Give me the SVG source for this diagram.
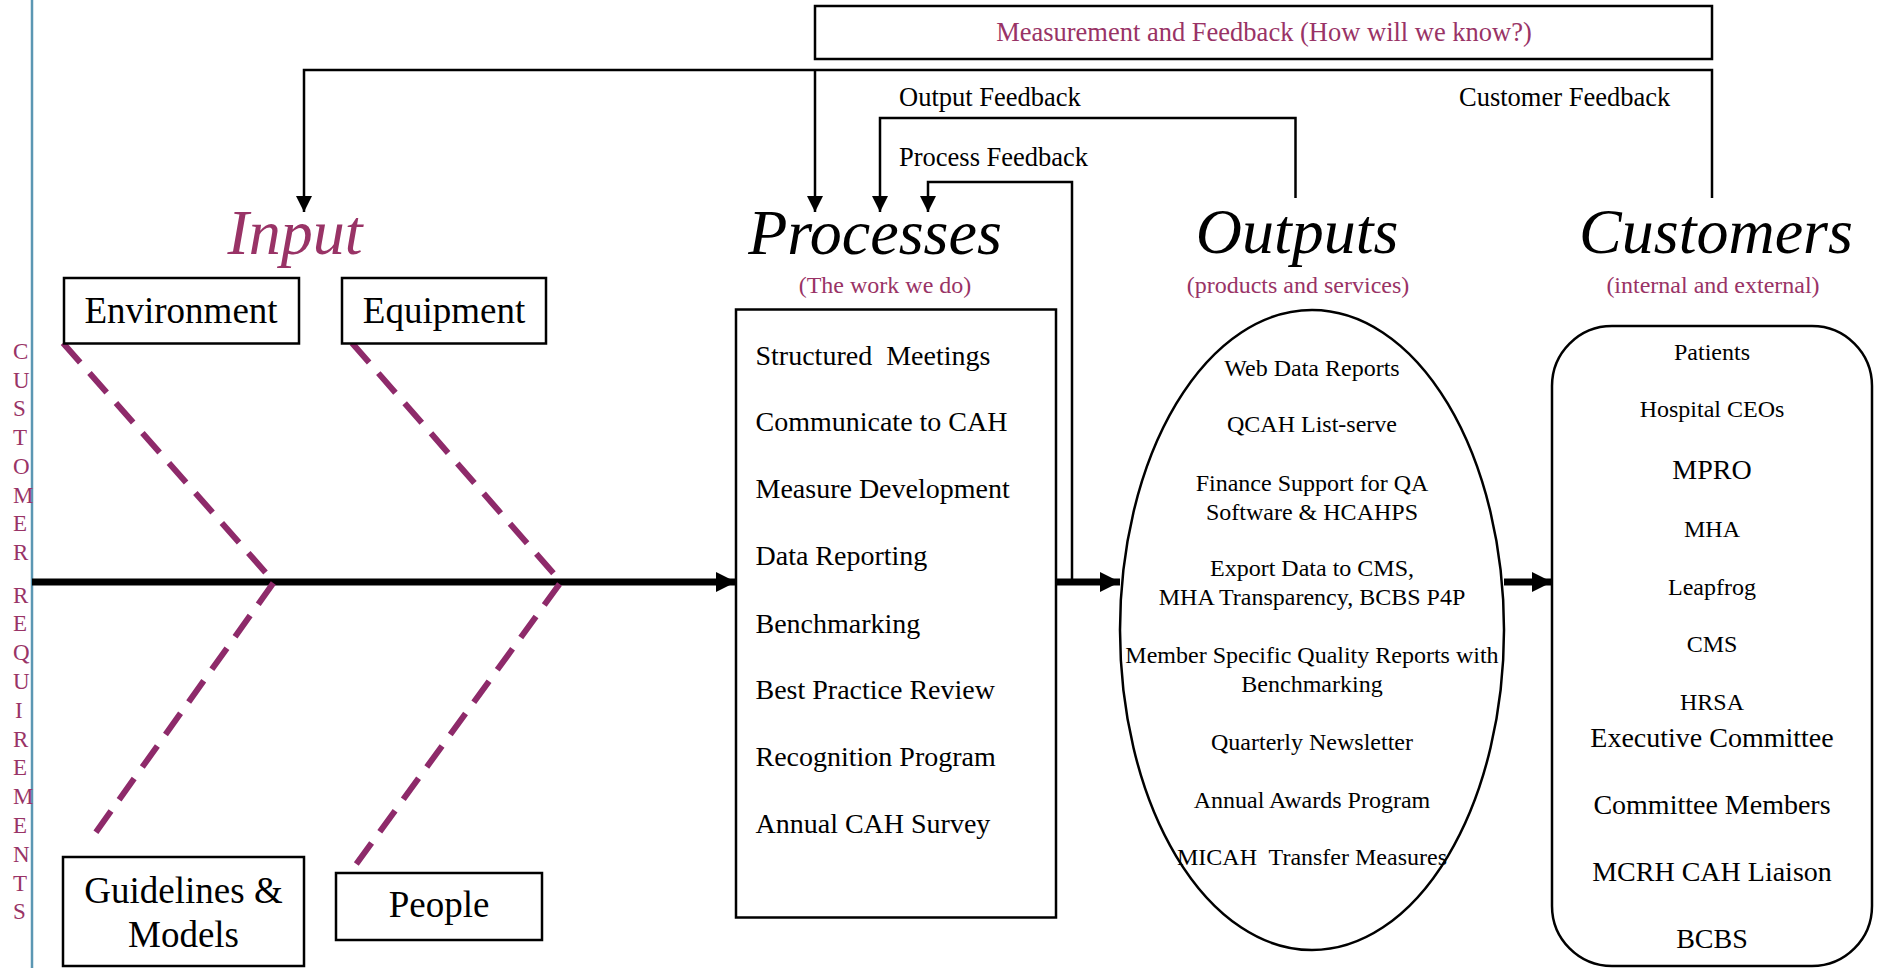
<svg xmlns="http://www.w3.org/2000/svg" width="1880" height="968" viewBox="0 0 1880 968">
<defs>
<style>
text{font-family:"Liberation Serif","Times New Roman",serif;fill:#000}
.mag{fill:#993366}
.title{font-size:64px;font-style:italic;text-anchor:middle}
.sub{font-size:24px;text-anchor:middle;fill:#993366}
.lbl{font-size:26.5px}
.box{fill:#fff;stroke:#000;stroke-width:2.5}
.big{font-size:37px;text-anchor:middle}
.proc{font-size:28px}
.out{font-size:24px;text-anchor:middle}
.cs{font-size:24px;text-anchor:middle}
.cl{font-size:28px;text-anchor:middle}
.thin{fill:none;stroke:#000;stroke-width:2.5}
.thick{fill:none;stroke:#000;stroke-width:7}
.dash{fill:none;stroke:#8E2A6A;stroke-width:6;stroke-dasharray:26 14}
</style>
<marker id="ah" markerUnits="userSpaceOnUse" markerWidth="16" markerHeight="16" refX="14" refY="7" orient="auto" viewBox="0 0 14 14"><path d="M0,0 L14,7 L0,14 Z" fill="#000"/></marker>
<marker id="ahb" markerUnits="userSpaceOnUse" markerWidth="20" markerHeight="20" refX="18" refY="9" orient="auto" viewBox="0 0 18 18"><path d="M0,0 L18,9 L0,18 Z" fill="#000"/></marker>
</defs>
<rect width="1880" height="968" fill="#fff"/>
<line x1="32" y1="0" x2="32" y2="968" stroke="#5B97B3" stroke-width="2.5"/>

<g id="requirements-label">
<text class="mag" style="font-size:23px"><tspan x="13" y="359">C</tspan><tspan x="13" y="387.7">U</tspan><tspan x="13" y="416.4">S</tspan><tspan x="13" y="445.1">T</tspan><tspan x="13" y="473.8">O</tspan><tspan x="13" y="502.5">M</tspan><tspan x="13" y="531.2">E</tspan><tspan x="13" y="559.9">R</tspan><tspan x="13" y="602.5">R</tspan><tspan x="13" y="631.3">E</tspan><tspan x="13" y="660.1">Q</tspan><tspan x="13" y="688.9">U</tspan><tspan x="15" y="717.7">I</tspan><tspan x="13" y="746.5">R</tspan><tspan x="13" y="775.3">E</tspan><tspan x="13" y="804.1">M</tspan><tspan x="13" y="832.9">E</tspan><tspan x="13" y="861.7">N</tspan><tspan x="13" y="890.5">T</tspan><tspan x="13" y="919.3">S</tspan></text>
</g>

<g id="connectors">
<path class="thin" d="M1712,198 V70 H304 V212" marker-end="url(#ah)"/>
<path class="thin" d="M815,70 V212" marker-end="url(#ah)"/>
<path class="thin" d="M1295.5,198 V118 H880 V212" marker-end="url(#ah)"/>
<path class="thin" d="M1072,582 V182 H928 V212" marker-end="url(#ah)"/>
<path class="thick" d="M32,582 H736" marker-end="url(#ahb)"/>
<path class="thick" d="M1056,582 H1120" marker-end="url(#ahb)"/>
<path class="thick" d="M1504,582 H1552" marker-end="url(#ahb)"/>
<polyline class="dash" points="63,343 274,582 89,842"/>
<polyline class="dash" points="352,343 561,582 352,870"/>
<text class="lbl" x="899" y="106">Output Feedback</text>
<text class="lbl" x="899" y="166">Process Feedback</text>
<text class="lbl" x="1459" y="106">Customer Feedback</text>
</g>

<g id="measurement">
<rect class="box" x="815" y="6" width="897" height="53"/>
<text class="mag" x="1264" y="41" style="font-size:26.5px;text-anchor:middle">Measurement and Feedback (How will we know?)</text>
</g>

<g id="input">
<text class="title mag" x="295" y="254">Input</text>
</g>

<g id="environment">
<rect class="box" x="64" y="278" width="235" height="65.5"/>
<text class="big" x="181" y="323">Environment</text>
</g>
<g id="equipment">
<rect class="box" x="342" y="278" width="204" height="65.5"/>
<text class="big" x="444" y="323">Equipment</text>
</g>
<g id="guidelines">
<rect class="box" x="63" y="857" width="241" height="109"/>
<text class="big" x="183.5" y="902.5">Guidelines &amp;</text>
<text class="big" x="183.5" y="947">Models</text>
</g>
<g id="people">
<rect class="box" x="336" y="873" width="206" height="67"/>
<text class="big" x="439" y="917">People</text>
</g>

<g id="processes">
<text class="title" x="875" y="254">Processes</text>
<text class="sub" x="885" y="293">(The work we do)</text>
<rect class="box" x="736" y="309.5" width="320" height="608"/>
<text class="proc" x="755.5" y="364.5">Structured&#160; Meetings</text>
<text class="proc" x="755.5" y="431">Communicate to CAH</text>
<text class="proc" x="755.5" y="498">Measure Development</text>
<text class="proc" x="755.5" y="565">Data Reporting</text>
<text class="proc" x="755.5" y="632.5">Benchmarking</text>
<text class="proc" x="755.5" y="699">Best Practice Review</text>
<text class="proc" x="755.5" y="766">Recognition Program</text>
<text class="proc" x="755.5" y="833">Annual CAH Survey</text>
</g>

<g id="outputs">
<text class="title" x="1297" y="253">Outputs</text>
<text class="sub" x="1298" y="293">(products and services)</text>
<ellipse cx="1312" cy="630" rx="192" ry="320" fill="#fff" stroke="#000" stroke-width="2.5"/>
<text class="out" x="1312" y="375.5">Web Data Reports</text>
<text class="out" x="1312" y="432">QCAH List-serve</text>
<text class="out" x="1312" y="490.5">Finance Support for QA</text>
<text class="out" x="1312" y="519.5">Software &amp; HCAHPS</text>
<text class="out" x="1312" y="575.5">Export Data to CMS,</text>
<text class="out" x="1312" y="605">MHA Transparency, BCBS P4P</text>
<text class="out" x="1312" y="663">Member Specific Quality Reports with</text>
<text class="out" x="1312" y="691.5">Benchmarking</text>
<text class="out" x="1312" y="749.5">Quarterly Newsletter</text>
<text class="out" x="1312" y="807.5">Annual Awards Program</text>
<text class="out" x="1312" y="865">MICAH&#160; Transfer Measures</text>
</g>

<g id="customers">
<text class="title" x="1716" y="253">Customers</text>
<text class="sub" x="1713" y="293">(internal and external)</text>
<rect class="box" x="1552" y="326" width="320" height="640" rx="60" ry="60"/>
<text class="cs" x="1712" y="359.5">Patients</text>
<text class="cs" x="1712" y="416.5">Hospital CEOs</text>
<text class="cl" x="1712" y="478.5">MPRO</text>
<text class="cs" x="1712" y="537">MHA</text>
<text class="cs" x="1712" y="595">Leapfrog</text>
<text class="cs" x="1712" y="651.5">CMS</text>
<text class="cs" x="1712" y="710">HRSA</text>
<text class="cl" x="1712" y="746.5">Executive Committee</text>
<text class="cl" x="1712" y="814">Committee Members</text>
<text class="cl" x="1712" y="881">MCRH CAH Liaison</text>
<text class="cl" x="1712" y="948">BCBS</text>
</g>
</svg>
